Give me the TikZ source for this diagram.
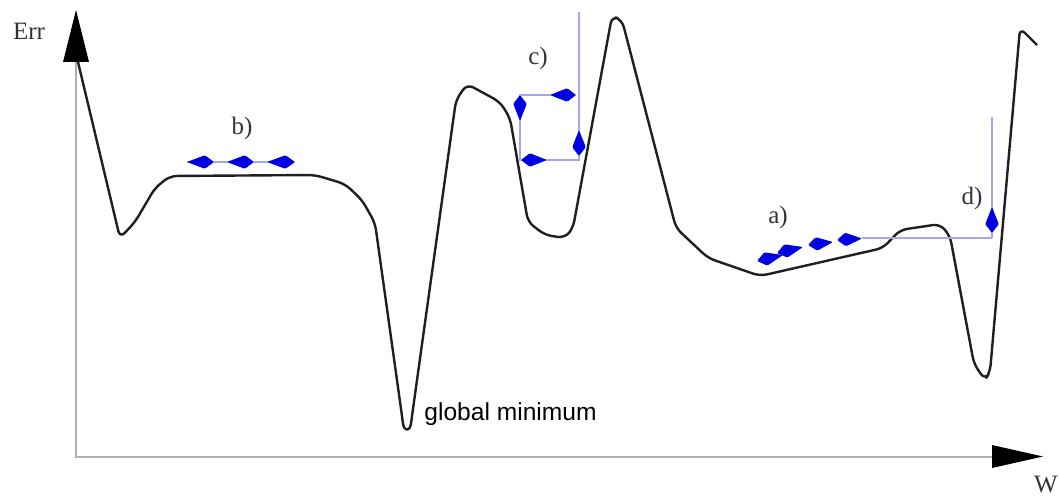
\documentclass[tikz,border=0pt]{standalone}
\usepackage{fontspec}
\setmainfont{Liberation Serif}
\newfontfamily\labelsans{Liberation Sans}
\usetikzlibrary{calc}
\definecolor{kiteblue}{RGB}{0,0,225}
\definecolor{lilacline}{RGB}{165,165,245}
\definecolor{axisgray}{RGB}{175,175,175}
% blue kite from back point #1 to tip #2
\newcommand{\kite}[2]{\fill[kiteblue,rounded corners=0.6pt] (#1) -- ($(#1)!0.66!(#2)!3.4pt!90:(#2)$) -- (#2) -- ($(#1)!0.66!(#2)!3.4pt!-90:(#2)$) -- cycle;}
\begin{document}
\begin{tikzpicture}[x=0.5pt,y=-0.5pt,
		axis/.style={axisgray,line width=1pt},
		errcurve/.style={black!88,line width=1.2pt,rounded corners=3.5pt,line join=round},
		stepline/.style={lilacline,line width=0.6pt},
		tag/.style={font=\fontsize{12.5}{14}\selectfont,text=black!80,inner sep=0pt}]
		\useasboundingbox (0,0) rectangle (1059,497);
		%axes
		\coordinate (O) at (76,457);
		\coordinate (Ytop) at (76,62);
		\coordinate (Xend) at (992,457);
		\draw[axis] (Ytop) -- (O) -- (Xend);
		\fill[black] (63,62) -- (76,10) -- (89,62) -- cycle;
		\fill[black] (992,445) -- (1043,456.5) -- (992,468) -- cycle;
		\node[tag] (err) at (29,31) {Err};
		\node[tag] (w) at (1046,485) {W};
		%error curve
		\draw[errcurve] (78,62) -- (120,238) -- (135,222) -- (155,188) -- (170,176) -- (315,175)
			-- (345,184) -- (362,200) -- (375,223) -- (402,416) .. controls (404,432) and (410,432) .. (412,416)
			-- (456,100) -- (467,84)
			-- (500,102) -- (510,118) -- (528,222) -- (545,235) -- (565,238) -- (573,228)
			-- (612,16) -- (622,20) -- (676,228) -- (708,258) -- (760,276) -- (883,248)
			-- (900,230) -- (940,224) -- (950,236) -- (974,364) -- (985,380) -- (990,372)
			-- (1020,28) -- (1037,45);
		\node[font=\labelsans\fontsize{12.3}{14}\selectfont,anchor=base west,inner sep=0pt] (glob) at (424,420) {global minimum};
		%a)
		\draw[stepline] (862,238) -- (992,238);
		\kite{783,255}{757,261}
		\kite{803,247}{777,253}
		\kite{833,242}{808,245}
		\kite{862,238.5}{837,240}
		\node[tag] (a) at (778,217) {a)};
		%b)
		\draw[stepline] (187,162) -- (295,162);
		\kite{187,162}{214,162}
		\kite{227,162}{254,162}
		\kite{267,162}{295,162}
		\node[tag] (b) at (242,128) {b)};
		%c)
		\draw[stepline] (579,12) -- (579,160) -- (520,160) -- (520,95) -- (576,95);
		\kite{520,121}{520,95}
		\kite{550,95}{576,95}
		\kite{579,130}{579,156}
		\kite{547,160}{521,160}
		\node[tag] (c) at (538,58) {c)};
		%d)
		\draw[stepline] (992,117) -- (992,238);
		\kite{992,207}{992,233}
		\node[tag] (d) at (972,198) {d)};
	\end{tikzpicture}
\end{document}
